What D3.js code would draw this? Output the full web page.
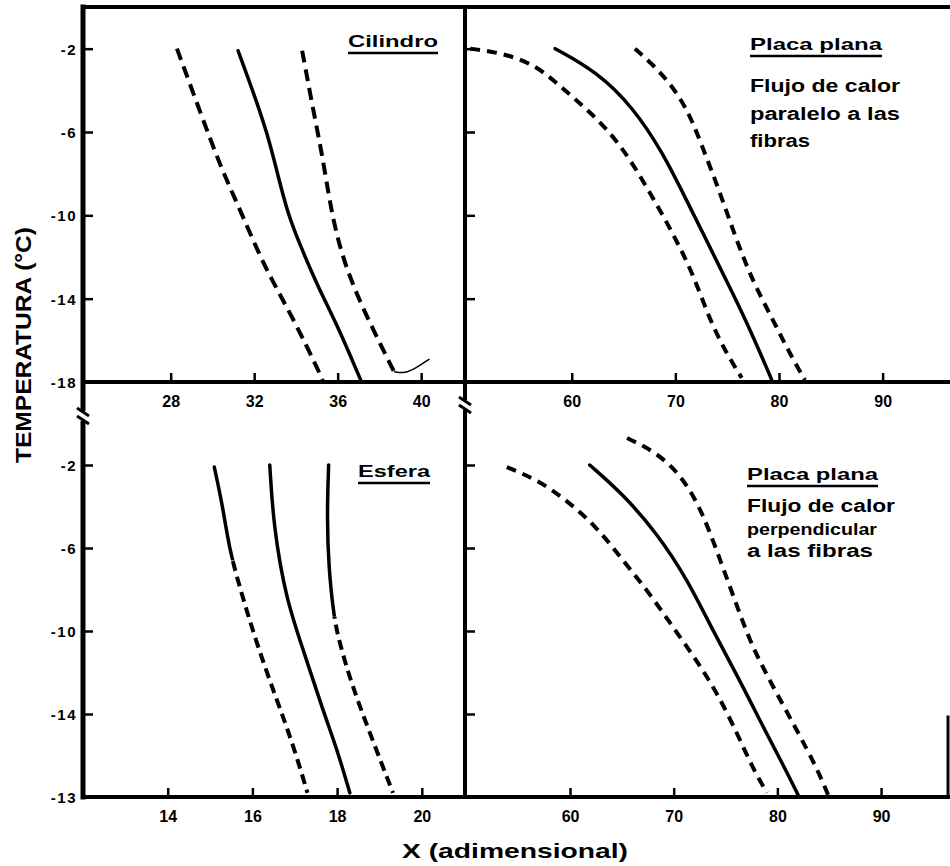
<!DOCTYPE html>
<html><head><meta charset="utf-8">
<script src="https://cdn.jsdelivr.net/npm/d3@7"></script>
<style>
body{margin:0;background:#fff}
svg{display:block}
text{font-family:"Liberation Sans",Arial,sans-serif;font-weight:bold;fill:#000}
</style>
</head><body>
<svg id="c" width="950" height="866"></svg>
<script>
// ---------- DATA ----------
const cilXTicks = [28, 32, 36, 40];
const placaXTicks = [60, 70, 80, 90];
const esfXTicks = [14, 16, 18, 20];
const yTickValues = [-2, -6, -10, -14, -18];
const yTickLabelsTop = ["-2", "-6", "-10", "-14", "-18"];
const yTickLabelsBottom = ["-2", "-6", "-10", "-14", "-13"];

// Cilindro
const cilDashedLeft = [[28.3,-2],[29.4,-5],[30.4,-7.7],[31.4,-9.9],[32.5,-12.5],[33.8,-14.8],[35.2,-17.7],[35.3,-18]];
const cilSolid = [[31.23,-2.1],[32.0,-4.2],[32.64,-6.1],[33.12,-8.0],[33.6,-9.9],[34.23,-11.5],[35.04,-13.4],[36.0,-15.3],[37.1,-17.9]];
const cilDashedRight = [[34.3,-2.1],[34.8,-4.8],[35.3,-7.3],[35.7,-9.9],[36.3,-12.3],[37.3,-14.7],[38.7,-17.5]];
const cilHook = [[38.7,-17.5],[39.2,-17.6],[39.8,-17.3],[40.4,-16.9]];

// Placa plana, paralelo
const parDashedLeft = [[50.2,-2.0],[53.3,-2.2],[56.6,-2.8],[59.1,-3.9],[61.7,-5.0],[64.6,-6.5],[67.2,-8.6],[69.7,-10.8],[71.7,-12.8],[73.3,-15.0],[74.9,-16.6],[76.4,-17.8]];
const parSolid = [[58.4,-2.0],[62.4,-3.1],[65.9,-4.8],[68.8,-7.0],[71.1,-9.3],[73.3,-11.5],[75.5,-13.7],[77.5,-15.8],[79.3,-17.9]];
const parDashedRight = [[66.1,-2.0],[68.8,-3.2],[71.1,-4.8],[72.6,-6.7],[74.3,-8.9],[75.9,-11.2],[77.5,-13.2],[79.4,-15.0],[81.0,-16.6],[82.5,-17.9]];

// Esfera (side curves: solid above the given temperature, dashed below)
const esfLeft = [[15.1,-2.1],[15.3,-4.0],[15.45,-6.0],[15.7,-7.9],[16.1,-10.6],[16.57,-13.3],[16.95,-15.4],[17.3,-17.8]];
const esfLeftSolidTo = -6.6;
const esfMiddle = [[16.41,-2.0],[16.5,-5.0],[16.8,-8.5],[17.2,-10.9],[17.66,-13.8],[18.0,-15.7],[18.3,-17.8]];
const esfRight = [[17.8,-2.0],[17.76,-4.5],[17.8,-6.9],[17.92,-9.3],[18.06,-10.6],[18.35,-12.6],[18.75,-14.8],[19.32,-17.8]];
const esfRightSolidTo = -9.3;

// Placa plana, perpendicular
const perDashedLeft = [[53.9,-2.1],[56.8,-2.7],[59.7,-3.7],[62.6,-5.0],[65.1,-6.6],[67.7,-8.2],[69.9,-9.8],[72.2,-11.4],[74.2,-13.0],[76.1,-14.9],[77.6,-16.6],[79.0,-17.8]];
const perSolid = [[61.9,-2.0],[65.1,-3.4],[68.4,-5.3],[71.3,-7.5],[73.8,-10.0],[76.4,-12.4],[78.6,-14.6],[80.5,-16.4],[82.0,-17.9]];
const perDashedRight = [[65.5,-0.7],[68.4,-1.4],[70.9,-2.6],[72.8,-4.3],[74.5,-6.6],[76.1,-8.8],[77.6,-10.8],[79.6,-12.7],[81.9,-14.8],[83.8,-16.6],[84.9,-17.9]];

// ---------- LAYOUT ----------
const svg = d3.select("#c");
const defs = svg.append("defs");
const X0 = 83, XM = 465, X1 = 950, Y0 = 7, YM = 382, Y1 = 797;

const panels = [
  {x: d3.scaleLinear().domain([23.8, 42.1]).range([X0, XM]), y: d3.scaleLinear().domain([0, -18]).range([Y0, YM]),
   ticks: cilXTicks, axisY: YM, dash: "12,7",
   curves: [[cilDashedLeft, "dash"], [cilSolid, "solid"], [cilDashedRight, "dash"]]},
  {x: d3.scaleLinear().domain([49.7, 96.5]).range([XM, X1]), y: d3.scaleLinear().domain([0, -18]).range([Y0, YM]),
   ticks: placaXTicks, axisY: YM, dash: "10,7",
   curves: [[parDashedLeft, "dash"], [parSolid, "solid"], [parDashedRight, "dash"]]},
  {x: d3.scaleLinear().domain([12.0, 21.02]).range([X0, XM]), y: d3.scaleLinear().domain([2, -18]).range([YM, Y1]),
   ticks: esfXTicks, axisY: Y1, dash: "10,6",
   curves: [[esfLeft, "mixed", esfLeftSolidTo], [esfMiddle, "solid"], [esfRight, "mixed", esfRightSolidTo]]},
  {x: d3.scaleLinear().domain([49.87, 96.65]).range([XM, X1]), y: d3.scaleLinear().domain([2, -18]).range([YM, Y1]),
   ticks: placaXTicks, axisY: Y1, dash: "10,7",
   curves: [[perDashedLeft, "dash"], [perSolid, "solid"], [perDashedRight, "dash"]]}
];

let clipId = 0;
panels.forEach(p => {
  const line = d3.line().x(d => p.x(d[0])).y(d => p.y(d[1])).curve(d3.curveBasis);
  p.curves.forEach(([data, kind, splitY]) => {
    if (kind === "mixed") {
      const yy = p.y(splitY);
      const ida = "clipA" + (clipId), idb = "clipB" + (clipId++);
      defs.append("clipPath").attr("id", ida).append("rect").attr("x", 0).attr("y", 0).attr("width", 950).attr("height", yy);
      defs.append("clipPath").attr("id", idb).append("rect").attr("x", 0).attr("y", yy).attr("width", 950).attr("height", 866 - yy);
      svg.append("path").attr("d", line(data)).attr("fill", "none").attr("stroke", "#000")
        .attr("stroke-width", 3.5).attr("stroke-linecap", "round").attr("clip-path", `url(#${ida})`);
      svg.append("path").attr("d", line(data)).attr("fill", "none").attr("stroke", "#000")
        .attr("stroke-width", 4).attr("stroke-dasharray", p.dash).attr("clip-path", `url(#${idb})`);
    } else {
      const dashed = kind === "dash";
      svg.append("path").attr("d", line(data)).attr("fill", "none").attr("stroke", "#000")
        .attr("stroke-width", dashed ? 4 : 3.5)
        .attr("stroke-dasharray", dashed ? p.dash : null)
        .attr("stroke-linecap", dashed ? "butt" : "round");
    }
  });
  const ax = d3.axisBottom(p.x).tickValues(p.ticks).tickSize(-9).tickPadding(14).tickFormat(d3.format("d"));
  const g = svg.append("g").attr("transform", `translate(0,${p.axisY})`).call(ax);
  g.select(".domain").remove();
  g.selectAll(".tick line").attr("stroke", "#000").attr("stroke-width", 2.5);
  g.selectAll(".tick text").attr("font-size", 16).attr("fill", "#000").attr("dy", "0.71em");
});
{
  const p = panels[0];
  const line = d3.line().x(d => p.x(d[0])).y(d => p.y(d[1])).curve(d3.curveBasis);
  svg.append("path").attr("d", line(cilHook)).attr("fill", "none").attr("stroke", "#000").attr("stroke-width", 1.5);
}

function yAxis(scale, labels, xpos, showLabels) {
  const ax = d3.axisRight(scale).tickValues(yTickValues).tickSize(10)
    .tickFormat((d, i) => labels[i]);
  const g = svg.append("g").attr("transform", `translate(${xpos},0)`).call(ax);
  g.select(".domain").remove();
  g.selectAll(".tick line").attr("stroke", "#000").attr("stroke-width", 2.5);
  if (showLabels) {
    g.selectAll(".tick text").attr("x", -6).attr("text-anchor", "end").attr("font-size", 15)
      .attr("letter-spacing", "1.5px").attr("fill", "#000").attr("dy", "0.36em");
  } else g.selectAll(".tick text").remove();
}
yAxis(panels[0].y, yTickLabelsTop, X0, true);
yAxis(panels[2].y, yTickLabelsBottom, X0, true);
yAxis(panels[0].y, yTickLabelsTop, XM, false);
yAxis(panels[2].y, yTickLabelsBottom, XM, false);

const frame = [
  [X0, Y0, X0, Y1, 5],
  [X0, Y0, X1, Y0, 4],
  [XM, Y0, XM, Y1, 4],
  [X0, YM, X1, YM, 4],
  [X0, Y1, X1, Y1, 4],
  [948, 717, 948, Y1, 3]
];
frame.forEach(f => svg.append("line").attr("x1", f[0]).attr("y1", f[1]).attr("x2", f[2]).attr("y2", f[3])
  .attr("stroke", "#000").attr("stroke-width", f[4]).attr("stroke-linecap", "square"));

[[X0, 416], [XM, 405]].forEach(([bx, by]) => {
  svg.append("rect").attr("x", bx - 4).attr("y", by - 5).attr("width", 8).attr("height", 10).attr("fill", "#fff");
  [-4, 4].forEach(o => svg.append("line").attr("x1", bx - 6).attr("y1", by + o - 4).attr("x2", bx + 6).attr("y2", by + o + 4)
    .attr("stroke", "#000").attr("stroke-width", 3));
});

function label(txt, x, y, len, size, underline) {
  svg.append("text").attr("x", x).attr("y", y).attr("font-size", size)
    .attr("textLength", len).attr("lengthAdjust", "spacingAndGlyphs").text(txt);
  if (underline) svg.append("line").attr("x1", x).attr("x2", x + len).attr("y1", y + 6).attr("y2", y + 6)
    .attr("stroke", "#000").attr("stroke-width", 2.5);
}
label("Cilindro", 348, 47, 90, 17, true);
label("Placa plana", 750, 50, 132, 17, true);
label("Flujo de calor", 750, 92, 150, 18, false);
label("paralelo a las", 750, 120, 150, 18, false);
label("fibras", 750, 147, 60, 18, false);
label("Esfera", 358, 477, 72, 17, true);
label("Placa plana", 747, 480, 131, 17, true);
label("Flujo de calor", 747, 512, 148, 18, false);
label("perpendicular", 747, 535, 130, 16, false);
label("a las fibras", 747, 557, 126, 18, false);

svg.append("text").attr("transform", "translate(31,463) rotate(-90)").attr("font-size", 22)
  .attr("textLength", 236).attr("lengthAdjust", "spacingAndGlyphs").text("TEMPERATURA (°C)");
svg.append("text").attr("x", 402).attr("y", 858).attr("font-size", 21)
  .attr("textLength", 226).attr("lengthAdjust", "spacingAndGlyphs").text("X (adimensional)");
</script>
</body></html>
